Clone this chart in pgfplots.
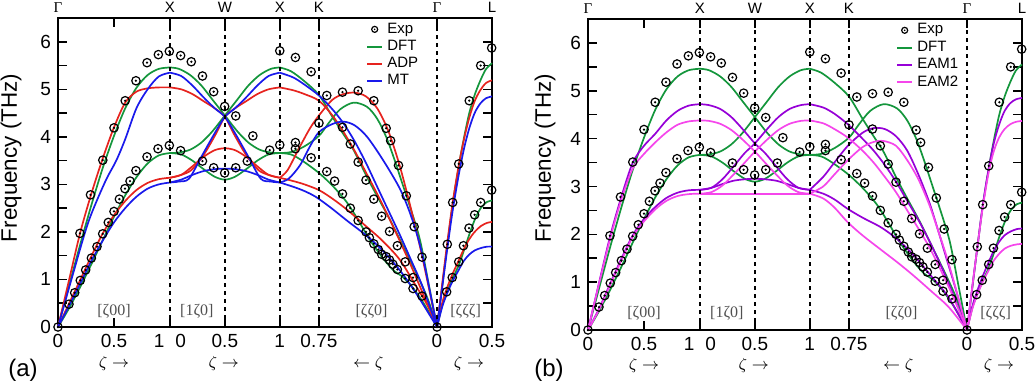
\documentclass[border=0pt]{standalone}
\usepackage{pgfplots}
\usepackage{pgfplotstable}
\pgfplotsset{compat=1.18}
\usepackage{fontspec}
\setmainfont{Liberation Sans}
\newfontfamily\serif{Liberation Serif}
\definecolor{colG}{RGB}{20,150,60}
\definecolor{colR}{RGB}{230,35,30}
\definecolor{colB}{RGB}{25,25,235}
\definecolor{colP}{RGB}{150,0,215}
\definecolor{colM}{RGB}{245,70,235}
\definecolor{txtgray}{RGB}{80,80,80}
\pgfdeclareplotmark{odot}{%
  \pgfpathcircle{\pgfpointorigin}{\pgfplotmarksize}\pgfusepathqstroke
  \pgfpathcircle{\pgfpointorigin}{0.3\pgfplotmarksize}\pgfusepathqfill}

\pgfplotstableread{
x y
0 0
0.098 0.48
0.149 0.72
0.199 0.98
0.247 1.20
0.298 1.45
0.348 1.69
0.399 1.96
0.449 2.20
0.500 2.43
0.548 2.69
0.598 2.91
0.643 3.07
0.696 3.29
0.795 3.58
0.893 3.75
0.994 3.82
0.196 1.97
0.290 2.78
0.400 3.51
0.500 4.19
0.600 4.76
0.696 5.18
0.795 5.56
0.896 5.73
0.994 5.80
1.095 5.71
1.190 5.58
1.290 5.28
1.390 4.95
1.488 4.64
1.587 4.44
1.740 4.02
1.095 3.71
1.290 3.49
1.390 3.35
1.488 3.24
1.587 3.35
1.690 3.49
1.890 3.72
1.980 3.83
1.980 5.81
2.120 5.67
2.260 5.37
2.120 3.88
2.120 3.75
2.260 3.56
2.33 4.29
2.40 4.87
2.54 4.94
2.68 4.97
2.82 4.76
2.93 4.18
2.97 3.92
3.04 3.40
3.11 2.76
3.18 2.11
3.25 1.47
2.54 4.20
2.61 3.85
2.68 3.47
2.75 3.09
2.82 2.69
2.89 2.33
2.96 2.01
3.03 1.71
3.10 1.37
3.17 1.04
2.40 3.27
2.47 3.07
2.54 2.80
2.61 2.50
2.68 2.24
2.75 2.00
2.78 1.88
2.82 1.75
2.86 1.63
2.89 1.53
2.93 1.48
2.96 1.41
2.99 1.32
3.03 1.21
3.10 1.02
3.17 0.81
3.25 0.65
3.384 0
3.476 1.74
3.524 2.62
3.578 3.43
3.672 4.76
3.774 5.50
3.872 5.87
3.47 0.74
3.52 1.04
3.578 1.37
3.62 1.71
3.67 2.08
3.72 2.36
3.774 2.62
3.872 2.88
}\expdata

\pgfplotsset{
 panel/.style={
  scale only axis, width=217pt,
  xmin=0, xmax=3.875, ymin=0, ymax=6.5,
  axis line style={line width=0.9pt},
  xtick={0,0.5,1,1.49,1.98,2.33,3.384,3.875},
  xticklabels={0,0.5,{1\hspace{5.5pt}0},0.5,1,0.75,0,0.5},
  ytick={0,1,...,6},
  yticklabels={0,1,2,3,4,5,6},
  minor ytick={0.5,1.5,...,5.5},
  tick align=inside, xtick pos=both, ytick pos=both,
  xticklabel pos=lower, yticklabel pos=left,
  major tick length=4.5pt, minor tick length=4.5pt,
  every tick/.style={black, line width=0.8pt},
  every minor tick/.style={black, line width=0.8pt},
  tick label style={font=\fontsize{9.5}{10}\selectfont},
  legend style={draw=none, fill=none, font=\fontsize{7.5}{8}\selectfont,
    at={(0.695,1.012)}, anchor=north west, legend cell align=left, row sep=-2pt},
  legend image code/.code={\draw[mark repeat=2,mark phase=2,#1] plot coordinates {(0pt,0pt)(3.8pt,0pt)(7.6pt,0pt)};},
  clip=false,
 },
 cur/.style={smooth, tension=0.5, no markers, line width=0.85pt},
 expst/.style={only marks, mark=odot, mark size=2.1pt, black, mark options={line width=0.6pt}},
 legexp/.style={only marks, mark=odot, mark size=1.5pt, black, mark options={line width=0.6pt}},
 legline/.style={no markers, line width=1.05pt},
}
\tikzset{
 mydl/.style={black, line width=0.75pt, dash pattern=on 2pt off 2pt},
 mytop/.style={anchor=base, yshift=3pt, font=\fontsize{7.5}{8}\selectfont},
 mybrk/.style={font=\serif\fontsize{8}{9}\selectfont, text=txtgray},
 myzet/.style={yshift=-18pt, font=\fontsize{8}{9}\selectfont},
}

\newcommand{\decor}{%
  \draw[mydl] (axis cs:1,0) -- (axis cs:1,6.5);
  \draw[mydl] (axis cs:1.49,0) -- (axis cs:1.49,6.5);
  \draw[mydl] (axis cs:1.98,0) -- (axis cs:1.98,6.5);
  \draw[mydl] (axis cs:2.33,0) -- (axis cs:2.33,6.5);
  \draw[mydl] (axis cs:3.384,0) -- (axis cs:3.384,6.5);
  \node[mytop] at (axis cs:0,6.5) {{\serif Γ}};
  \node[mytop] at (axis cs:1,6.5) {X};
  \node[mytop] at (axis cs:1.49,6.5) {W};
  \node[mytop] at (axis cs:1.98,6.5) {X};
  \node[mytop] at (axis cs:2.33,6.5) {K};
  \node[mytop] at (axis cs:3.384,6.5) {{\serif Γ}};
  \node[mytop] at (axis cs:3.875,6.5) {L};
  \node[mybrk] at (axis cs:0.5,0.34) {[ζ00]};
  \node[mybrk] at (axis cs:1.24,0.34) {[1ζ0]};
  \node[mybrk] at (axis cs:2.8,0.34) {[ζζ0]};
  \node[mybrk] at (axis cs:3.64,0.34) {[ζζζ]};
  \node[myzet] at (axis cs:0.5,0) {$\zeta\rightarrow$};
  \node[myzet] at (axis cs:1.48,0) {$\zeta\rightarrow$};
  \node[myzet] at (axis cs:2.77,0) {$\leftarrow\zeta$};
  \node[myzet] at (axis cs:3.67,0) {$\zeta\rightarrow$};
}

% DFT curves (shared by both panels)
\newcommand{\dft}{%
  \addplot[cur, colG, forget plot] coordinates {(0,0)(0.1,0.88)(0.2,1.75)(0.3,2.58)(0.4,3.35)(0.5,4.02)(0.6,4.6)(0.7,5.03)(0.8,5.3)(0.9,5.43)(1,5.46)};
  \addplot[cur, colG, forget plot] coordinates {(0,0)(0.1,0.4)(0.2,0.85)(0.3,1.33)(0.4,1.83)(0.5,2.32)(0.6,2.77)(0.7,3.15)(0.8,3.44)(0.9,3.61)(1,3.66)};
  \addplot[cur, colG, forget plot] coordinates {(1,5.46)(1.08,5.43)(1.18,5.3)(1.28,5.08)(1.38,4.78)(1.49,4.45)(1.6,4.12)(1.7,3.88)(1.8,3.73)(1.9,3.67)(1.98,3.66)};
  \addplot[cur, colG, forget plot] coordinates {(1,3.66)(1.08,3.67)(1.18,3.73)(1.28,3.88)(1.38,4.12)(1.49,4.45)(1.6,4.78)(1.7,5.08)(1.8,5.3)(1.9,5.43)(1.98,5.46)};
  \addplot[cur, colG, forget plot] coordinates {(1,3.66)(1.1,3.63)(1.2,3.5)(1.3,3.32)(1.4,3.16)(1.49,3.1)(1.58,3.16)(1.68,3.32)(1.78,3.5)(1.88,3.63)(1.98,3.66)};
  \addplot[cur, colG, forget plot] coordinates {(1.98,5.46)(2.08,5.38)(2.2,5.17)(2.33,4.88)(2.45,4.42)(2.55,4.05)(2.64,3.72)(2.76,3.15)(2.85,2.75)(2.95,2.32)(3.05,1.85)(3.2,1.13)(3.3,0.6)(3.384,0)};
  \addplot[cur, colG, forget plot] coordinates {(1.98,3.66)(2.08,3.68)(2.2,3.8)(2.33,4.02)(2.42,4.3)(2.52,4.58)(2.64,4.72)(2.76,4.63)(2.85,4.38)(2.93,4.0)(3.0,3.55)(3.07,3.05)(3.14,2.55)(3.23,1.85)(3.31,0.9)(3.384,0)};
  \addplot[cur, colG, forget plot] coordinates {(1.98,3.66)(2.08,3.63)(2.18,3.5)(2.33,3.24)(2.46,2.95)(2.58,2.62)(2.68,2.25)(2.78,1.85)(2.9,1.45)(3.0,1.18)(3.07,1.07)(3.16,0.85)(3.27,0.48)(3.384,0)};
  \addplot[cur, colG, forget plot] coordinates {(3.384,0)(3.43,0.85)(3.476,1.72)(3.524,2.58)(3.578,3.38)(3.625,3.98)(3.672,4.5)(3.72,4.88)(3.77,5.18)(3.82,5.42)(3.875,5.55)};
  \addplot[cur, colG, forget plot] coordinates {(3.384,0)(3.43,0.45)(3.47,0.72)(3.52,1.0)(3.578,1.3)(3.62,1.58)(3.67,1.93)(3.72,2.25)(3.774,2.5)(3.83,2.63)(3.875,2.66)};
}

\begin{document}
\begin{tikzpicture}[x=1pt,y=1pt]
\useasboundingbox (0,0) rectangle (517.5,193);

% ---------------- panel (a) ----------------
\begin{axis}[panel, height=154.5pt, at={(29pt,29.5pt)}, anchor=south west]
\addlegendimage{legexp}\addlegendentry{Exp}
\addlegendimage{legline, colG}\addlegendentry{DFT}
\addlegendimage{legline, colR}\addlegendentry{ADP}
\addlegendimage{legline, colB}\addlegendentry{MT}
\addplot[expst, forget plot] table[x=x,y=y] {\expdata};
\dft
% ADP
\addplot[cur, colR, forget plot] coordinates {(0,0)(0.1,1.0)(0.2,2.0)(0.3,2.82)(0.4,3.55)(0.5,4.2)(0.6,4.72)(0.7,4.95)(0.8,5.02)(0.9,5.04)(1,5.04)};
\addplot[cur, colR, forget plot] coordinates {(0,0)(0.1,0.5)(0.2,1.0)(0.3,1.5)(0.4,1.97)(0.5,2.35)(0.6,2.65)(0.7,2.88)(0.8,3.03)(0.9,3.11)(1,3.14)};
\addplot[cur, colR, forget plot] coordinates {(1,5.04)(1.1,5.0)(1.2,4.9)(1.3,4.75)(1.4,4.6)(1.49,4.42)(1.58,4.02)(1.68,3.62)(1.79,3.3)(1.88,3.2)(1.98,3.14)};
\addplot[cur, colR, forget plot] coordinates {(1,3.14)(1.1,3.2)(1.19,3.3)(1.3,3.62)(1.4,4.02)(1.49,4.42)(1.58,4.6)(1.68,4.75)(1.78,4.9)(1.88,5.0)(1.98,5.04)};
\addplot[cur, colR, forget plot] coordinates {(1,3.14)(1.1,3.2)(1.2,3.38)(1.3,3.58)(1.4,3.72)(1.49,3.76)(1.58,3.72)(1.68,3.58)(1.78,3.38)(1.88,3.2)(1.98,3.14)};
\addplot[cur, colR, forget plot] coordinates {(1.98,5.04)(2.1,4.98)(2.2,4.9)(2.33,4.76)(2.45,4.45)(2.55,4.1)(2.65,3.7)(2.75,3.25)(2.85,2.8)(2.95,2.32)(3.05,1.82)(3.15,1.3)(3.25,0.75)(3.384,0)};
\addplot[cur, colR, forget plot] coordinates {(1.98,3.14)(2.05,3.3)(2.15,3.75)(2.25,4.18)(2.33,4.45)(2.45,4.78)(2.55,4.9)(2.65,4.93)(2.75,4.85)(2.85,4.6)(2.95,4.12)(3.05,3.4)(3.15,2.5)(3.25,1.5)(3.384,0)};
\addplot[cur, colR, forget plot] coordinates {(1.98,3.14)(2.1,3.07)(2.2,3.0)(2.33,2.88)(2.45,2.7)(2.59,2.45)(2.75,2.12)(2.89,1.83)(3.05,1.42)(3.2,0.85)(3.3,0.45)(3.384,0)};
\addplot[cur, colR, forget plot] coordinates {(3.384,0)(3.43,0.9)(3.476,1.78)(3.524,2.62)(3.578,3.4)(3.625,3.95)(3.672,4.4)(3.72,4.75)(3.77,4.98)(3.82,5.13)(3.875,5.19)};
\addplot[cur, colR, forget plot] coordinates {(3.384,0)(3.43,0.5)(3.47,0.8)(3.52,1.1)(3.578,1.4)(3.62,1.62)(3.67,1.84)(3.72,2.0)(3.774,2.12)(3.83,2.19)(3.875,2.21)};
% MT
\addplot[cur, colB, forget plot] coordinates {(0,0)(0.12,1.0)(0.27,2.2)(0.42,3.05)(0.52,3.5)(0.6,3.95)(0.7,4.6)(0.8,5.0)(0.9,5.27)(1,5.35)};
\addplot[cur, colB, forget plot] coordinates {(0,0)(0.1,0.45)(0.2,0.92)(0.3,1.4)(0.4,1.82)(0.5,2.2)(0.6,2.5)(0.7,2.74)(0.8,2.91)(0.9,3.0)(1,3.04)};
\addplot[cur, colB, forget plot] coordinates {(1,5.35)(1.1,5.28)(1.2,5.08)(1.3,4.83)(1.4,4.6)(1.49,4.42)(1.58,4.08)(1.7,3.58)(1.81,3.12)(1.9,3.06)(1.98,3.04)};
\addplot[cur, colB, forget plot] coordinates {(1,3.04)(1.08,3.06)(1.17,3.12)(1.28,3.58)(1.4,4.08)(1.49,4.42)(1.58,4.6)(1.68,4.83)(1.78,5.08)(1.88,5.28)(1.98,5.35)};
\addplot[cur, colB, forget plot] coordinates {(1,3.04)(1.1,3.1)(1.2,3.2)(1.3,3.28)(1.4,3.32)(1.49,3.33)(1.58,3.32)(1.68,3.28)(1.78,3.2)(1.88,3.1)(1.98,3.04)};
\addplot[cur, colB, forget plot] coordinates {(1.98,5.35)(2.1,5.25)(2.2,5.1)(2.33,4.87)(2.45,4.58)(2.55,4.28)(2.65,3.9)(2.75,3.45)(2.85,2.95)(2.95,2.45)(3.05,1.95)(3.15,1.42)(3.25,0.88)(3.384,0)};
\addplot[cur, colB, forget plot] coordinates {(1.98,3.04)(2.06,3.12)(2.16,3.4)(2.25,3.8)(2.33,4.1)(2.45,4.27)(2.55,4.32)(2.65,4.24)(2.76,4.0)(2.9,3.52)(3.05,2.92)(3.15,2.35)(3.25,1.55)(3.384,0)};
\addplot[cur, colB, forget plot] coordinates {(1.98,3.04)(2.1,2.95)(2.2,2.86)(2.3,2.74)(2.43,2.52)(2.59,2.22)(2.75,1.93)(2.89,1.63)(3.05,1.2)(3.2,0.7)(3.384,0)};
\addplot[cur, colB, forget plot] coordinates {(3.384,0)(3.43,0.82)(3.476,1.65)(3.524,2.45)(3.578,3.2)(3.625,3.75)(3.672,4.18)(3.72,4.5)(3.77,4.7)(3.82,4.81)(3.875,4.85)};
\addplot[cur, colB, forget plot] coordinates {(3.384,0)(3.43,0.42)(3.47,0.68)(3.52,0.95)(3.578,1.2)(3.62,1.38)(3.67,1.52)(3.72,1.61)(3.774,1.66)(3.83,1.69)(3.875,1.69)};
\decor
\end{axis}

% ---------------- panel (b) ----------------
\begin{axis}[panel, height=155.5pt, at={(294pt,28pt)}, anchor=south west]
\addlegendimage{legexp}\addlegendentry{Exp}
\addlegendimage{legline, colG}\addlegendentry{DFT}
\addlegendimage{legline, colP}\addlegendentry{EAM1}
\addlegendimage{legline, colM}\addlegendentry{EAM2}
\addplot[expst, forget plot] table[x=x,y=y] {\expdata};
\dft
% EAM1
\addplot[cur, colP, forget plot] coordinates {(0,0)(0.1,1.0)(0.2,1.98)(0.3,2.8)(0.4,3.5)(0.5,3.85)(0.6,4.1)(0.7,4.38)(0.8,4.58)(0.9,4.69)(1,4.72)};
\addplot[cur, colP, forget plot] coordinates {(0,0)(0.1,0.45)(0.2,0.98)(0.3,1.5)(0.4,1.98)(0.5,2.32)(0.6,2.57)(0.7,2.76)(0.8,2.87)(0.9,2.92)(1,2.93)};
\addplot[cur, colP, forget plot] coordinates {(1,4.72)(1.08,4.7)(1.18,4.62)(1.28,4.45)(1.38,4.2)(1.49,3.9)(1.58,3.7)(1.68,3.42)(1.78,3.15)(1.88,2.97)(1.98,2.93)};
\addplot[cur, colP, forget plot] coordinates {(1,2.93)(1.1,2.97)(1.2,3.15)(1.3,3.42)(1.4,3.7)(1.49,3.9)(1.6,4.2)(1.7,4.45)(1.8,4.62)(1.9,4.7)(1.98,4.72)};
\addplot[cur, colP, forget plot] coordinates {(1,2.93)(1.1,2.97)(1.2,3.05)(1.3,3.12)(1.4,3.15)(1.49,3.16)(1.58,3.15)(1.68,3.12)(1.78,3.05)(1.88,2.97)(1.98,2.93)};
\addplot[cur, colP, forget plot] coordinates {(1.98,4.72)(2.1,4.65)(2.2,4.52)(2.32,4.3)(2.45,4.0)(2.55,3.75)(2.65,3.45)(2.75,3.1)(2.85,2.7)(2.95,2.3)(3.05,1.85)(3.15,1.35)(3.25,0.8)(3.384,0)};
\addplot[cur, colP, forget plot] coordinates {(1.98,2.93)(2.1,3.2)(2.2,3.5)(2.32,3.85)(2.45,4.12)(2.55,4.22)(2.65,4.2)(2.75,4.05)(2.85,3.75)(2.95,3.25)(3.05,2.65)(3.13,2.05)(3.2,1.5)(3.28,0.88)(3.384,0)};
\addplot[cur, colP, forget plot] coordinates {(1.98,2.93)(2.1,2.85)(2.2,2.73)(2.32,2.53)(2.45,2.35)(2.62,2.14)(2.77,1.88)(2.92,1.53)(3.07,1.11)(3.22,0.68)(3.384,0)};
\addplot[cur, colP, forget plot] coordinates {(3.384,0)(3.43,0.88)(3.476,1.72)(3.524,2.6)(3.578,3.38)(3.625,3.92)(3.672,4.3)(3.72,4.58)(3.77,4.74)(3.82,4.82)(3.875,4.85)};
\addplot[cur, colP, forget plot] coordinates {(3.384,0)(3.43,0.48)(3.47,0.78)(3.52,1.1)(3.578,1.42)(3.62,1.64)(3.67,1.84)(3.72,1.98)(3.774,2.06)(3.83,2.11)(3.875,2.12)};
% EAM2
\addplot[cur, colM, forget plot] coordinates {(0,0)(0.1,0.98)(0.2,1.93)(0.3,2.74)(0.4,3.38)(0.5,3.68)(0.6,3.92)(0.7,4.13)(0.8,4.29)(0.9,4.36)(1,4.38)};
\addplot[cur, colM, forget plot] coordinates {(0,0)(0.1,0.43)(0.2,0.95)(0.3,1.46)(0.4,1.95)(0.5,2.27)(0.6,2.52)(0.7,2.7)(0.8,2.8)(0.9,2.84)(1,2.85)};
\addplot[cur, colM, forget plot] coordinates {(1,4.38)(1.08,4.37)(1.18,4.31)(1.28,4.18)(1.38,3.98)(1.49,3.73)(1.58,3.5)(1.68,3.25)(1.78,3.02)(1.88,2.88)(1.98,2.85)};
\addplot[cur, colM, forget plot] coordinates {(1,2.85)(1.1,2.88)(1.2,3.02)(1.3,3.25)(1.4,3.5)(1.49,3.73)(1.6,3.98)(1.7,4.18)(1.8,4.31)(1.9,4.37)(1.98,4.38)};
\addplot[cur, colM, forget plot, line width=1.05pt] coordinates {(1,2.85)(1.49,2.85)(1.98,2.85)};
\addplot[cur, colM, forget plot] coordinates {(1.98,4.38)(2.1,4.32)(2.2,4.2)(2.32,4.02)(2.45,3.75)(2.55,3.5)(2.65,3.2)(2.75,2.88)(2.85,2.5)(2.95,2.12)(3.05,1.72)(3.15,1.25)(3.25,0.75)(3.384,0)};
\addplot[cur, colM, forget plot] coordinates {(1.98,2.85)(2.1,3.0)(2.2,3.25)(2.32,3.55)(2.45,3.82)(2.55,3.93)(2.64,3.95)(2.75,3.85)(2.85,3.55)(2.95,3.15)(3.05,2.6)(3.13,2.05)(3.2,1.55)(3.28,0.9)(3.384,0)};
\addplot[cur, colM, forget plot] coordinates {(1.98,2.85)(2.1,2.75)(2.2,2.56)(2.32,2.25)(2.45,1.98)(2.62,1.67)(2.77,1.4)(2.92,1.11)(3.07,0.8)(3.22,0.48)(3.384,0)};
\addplot[cur, colM, forget plot] coordinates {(3.384,0)(3.43,0.88)(3.476,1.72)(3.524,2.55)(3.578,3.3)(3.625,3.75)(3.672,4.03)(3.72,4.2)(3.77,4.3)(3.82,4.35)(3.875,4.37)};
\addplot[cur, colM, forget plot] coordinates {(3.384,0)(3.43,0.43)(3.47,0.7)(3.52,0.98)(3.578,1.25)(3.62,1.44)(3.67,1.59)(3.72,1.7)(3.774,1.76)(3.83,1.79)(3.875,1.8)};
\decor
\end{axis}

\node[rotate=90, font=\fontsize{11.2}{12}\selectfont] at (5.5,114) {Frequency (THz)};
\node[rotate=90, font=\fontsize{11.2}{12}\selectfont] at (272.5,114) {Frequency (THz)};
\node[font=\fontsize{12}{14}\selectfont] at (11.5,8) {(a)};
\node[font=\fontsize{12}{14}\selectfont] at (274.5,8) {(b)};
\end{tikzpicture}
\end{document}
